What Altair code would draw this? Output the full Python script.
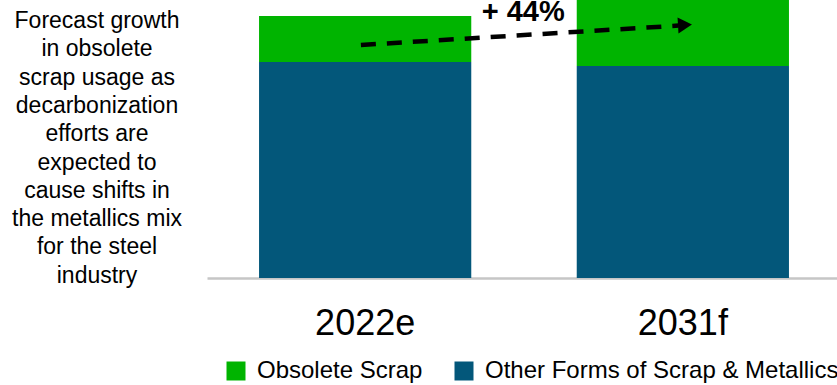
import altair as alt
import pandas as pd

# ---- data ----
categories = ["2022e", "2031f"]
other_values = [77.7, 76.3]          # Other Forms of Scrap & Metallics
obsolete_values = [16.5, 23.8]       # Obsolete Scrap
series_names = ["Obsolete Scrap", "Other Forms of Scrap & Metallics"]
series_colors = ["#00b400", "#03577a"]
stack_rank = {"Other Forms of Scrap & Metallics": 0, "Obsolete Scrap": 1}

arrow_cats = ["2022e", "2031f"]
arrow_y = [83.8, 90.8]
head_cat = ["2031f"]
head_y = [91.0]
growth_label = ["+ 44%"]
growth_cat = ["2022e"]
growth_y = [92.4]

note_lines = [
    "Forecast growth",
    "in obsolete",
    "scrap usage as",
    "decarbonization",
    "efforts are",
    "expected to",
    "cause shifts in",
    "the metallics mix",
    "for the steel",
    "industry",
]

rows = []
for c, o, s in zip(categories, other_values, obsolete_values):
    rows.append({"cat": c, "series": series_names[1], "value": o, "rank": stack_rank[series_names[1]]})
    rows.append({"cat": c, "series": series_names[0], "value": s, "rank": stack_rank[series_names[0]]})
bars_df = pd.DataFrame(rows)
arrow_df = pd.DataFrame({"cat": arrow_cats, "y": arrow_y})
head_df = pd.DataFrame({"cat": head_cat, "y": head_y})
label_df = pd.DataFrame({"cat": growth_cat, "y": growth_y, "text": growth_label})
note_df = pd.DataFrame({"text": ["\n".join(note_lines)]})

FONT = "Liberation Sans"

x_axis = alt.Axis(
    title=None, ticks=False, labelAngle=0, labelFontSize=36, labelFont=FONT,
    labelColor="#000000", labelBaseline="alphabetic", labelPadding=56,
    domainColor="#c6c6c6", domainWidth=2.5, grid=False,
)
x_scale = alt.Scale(paddingInner=0.332, paddingOuter=0.1575, align=0.52)
y_scale = alt.Scale(domain=[0, 100], nice=False, zero=True)

bars = alt.Chart(bars_df).mark_bar().encode(
    x=alt.X("cat:N", sort=categories, scale=x_scale, axis=x_axis),
    y=alt.Y("value:Q", stack="zero", scale=y_scale, axis=None),
    color=alt.Color(
        "series:N",
        scale=alt.Scale(domain=series_names, range=series_colors),
        legend=alt.Legend(
            title=None, orient="none", direction="horizontal",
            legendX=17, legendY=359, symbolType="square", symbolSize=361,
            symbolStrokeWidth=0, labelFontSize=24, labelFont=FONT,
            labelColor="#000000", labelOffset=9, columnPadding=29,
            labelLimit=600, padding=0,
        ),
    ),
    order=alt.Order("rank:Q"),
)

arrow = alt.Chart(arrow_df).mark_line(
    color="#000000", strokeWidth=4.5, strokeDash=[15, 11], strokeCap="butt"
).encode(
    x=alt.X("cat:N", sort=categories, scale=x_scale, axis=x_axis, bandPosition=0.48),
    y=alt.Y("y:Q", scale=y_scale, axis=None),
)

head = alt.Chart(head_df).mark_point(
    shape="triangle-right", filled=True, color="#000000", opacity=1, size=260, angle=356.5
).encode(
    x=alt.X("cat:N", sort=categories, scale=x_scale, axis=x_axis, bandPosition=0.51),
    y=alt.Y("y:Q", scale=y_scale, axis=None),
)

label = alt.Chart(label_df).mark_text(
    font=FONT, fontWeight="bold", fontSize=29, align="center",
    baseline="alphabetic", dx=52, color="#000000",
).encode(
    x=alt.X("cat:N", sort=categories, scale=x_scale, axis=x_axis, bandPosition=1),
    y=alt.Y("y:Q", scale=y_scale, axis=None),
    text="text:N",
)

note = alt.Chart(note_df).mark_text(
    font=FONT, fontSize=23, lineHeight=28.3, align="center",
    baseline="alphabetic", lineBreak="\n", color="#000000",
).encode(
    x=alt.value(-110),
    y=alt.value(28),
    text="text:N",
)

chart = alt.layer(bars, arrow, head, label, note).properties(
    width=630, height=278,
    padding={"left": 207, "top": 0, "right": 0, "bottom": 107},
    autosize="none",
).configure(font=FONT).configure_view(stroke=None)

chart.save("out.html", embed_options={"renderer": "svg", "actions": False})
